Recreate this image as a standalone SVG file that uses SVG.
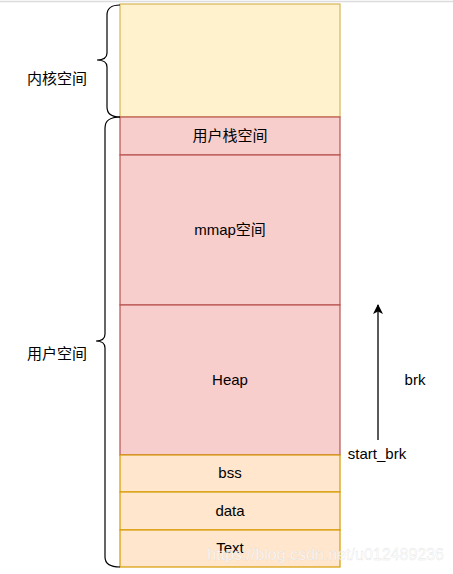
<svg xmlns="http://www.w3.org/2000/svg" width="453" height="574" viewBox="0 0 453 574">
<style>
  text { font-family: "Liberation Sans", "Noto Sans CJK SC", sans-serif; font-size: 15px; fill: #000; text-anchor: middle; }
  .k { fill: #fff2cc; stroke: #d6b656; stroke-width: 1.2; }
  .p { fill: #f8cecc; stroke: #b85450; stroke-width: 1.2; }
  .o { fill: #ffe6cc; stroke: #d79b00; stroke-width: 1.2; }
  .brace { fill: none; stroke: #000; stroke-width: 1.2; }
  .wm { fill: #ffffff; fill-opacity: 0.75; stroke: #d0d0d0; stroke-width: 0.4; stroke-opacity: 0.6; text-anchor: end; font-size: 16px; }
</style>
<defs>
  <marker id="ah" viewBox="0 0 10 10" refX="9" refY="5" markerWidth="10" markerHeight="10" markerUnits="userSpaceOnUse" orient="auto">
    <path d="M0,0 L10,5 L0,10 L2.5,5 Z" fill="#000"/>
  </marker>
</defs>
<rect x="0" y="0" width="453" height="574" fill="#fff"/>
<line x1="0" y1="1.5" x2="453" y2="1.5" stroke="#dcdcdc" stroke-width="1.5"/>
<g id="kernel"><rect class="k" x="120" y="4" width="220" height="113"/></g>
<g id="ustack"><rect class="p" x="120" y="117" width="220" height="38"/><text x="230" y="141">用户栈空间</text></g>
<g id="mmap"><rect class="p" x="120" y="155" width="220" height="150"/><text x="230" y="235">mmap空间</text></g>
<g id="heap"><rect class="p" x="120" y="305" width="220" height="150"/><text x="230" y="385">Heap</text></g>
<g id="bss"><rect class="o" x="120" y="455" width="220" height="37"/><text x="230" y="478">bss</text></g>
<g id="data"><rect class="o" x="120" y="492" width="220" height="38"/><text x="230" y="516">data</text></g>
<g id="textseg"><rect class="o" x="120" y="530" width="220" height="37"/><text x="230" y="553">Text</text></g>
<g id="kernel-brace">
  <path class="brace" d="M120,5 C111,5 107,8 107,15 L107,53 C107,58 104,60 97,60 C104,60 107,62 107,67 L107,107 C107,114 111,117 120,117"/>
  <text x="57" y="84">内核空间</text>
</g>
<g id="user-brace">
  <path class="brace" d="M120,117 C110,117 105,120 105,128 L105,334 C105,339 102,341 96,341 C102,341 105,343 105,348 L105,557 C105,564 110,567 120,567"/>
  <text x="57" y="359">用户空间</text>
</g>
<g id="connectors">
  <line x1="378" y1="440" x2="378" y2="305" stroke="#000" stroke-width="1.3" marker-end="url(#ah)"/>
</g>
<g id="labels">
  <text x="415" y="385">brk</text>
  <text x="377" y="459">start_brk</text>
</g>
<text class="wm" x="444" y="560">https://blog.csdn.net/u012489236</text>
</svg>
